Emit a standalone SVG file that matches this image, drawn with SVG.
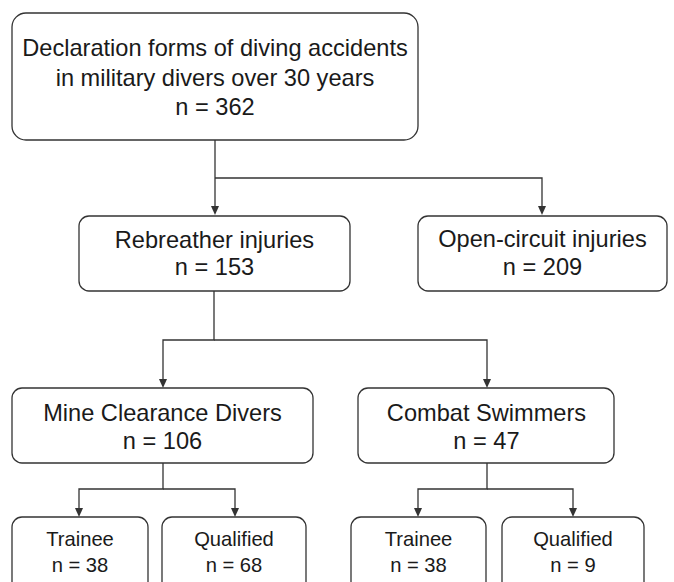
<svg xmlns="http://www.w3.org/2000/svg" width="674" height="582" viewBox="0 0 674 582">
<style>
.box{fill:#fff;stroke:#333;stroke-width:1.3}
.t{font-family:"Liberation Sans",Arial,sans-serif;font-size:23.6px;fill:#1a1a1a;text-anchor:middle}
.s{font-family:"Liberation Sans",Arial,sans-serif;font-size:20.2px;fill:#1a1a1a;text-anchor:middle}
.c{fill:none;stroke:#333;stroke-width:1.3}
</style>
<defs>
<marker id="ah" markerWidth="8" markerHeight="9" refX="4" refY="9" orient="auto-start-reverse" markerUnits="userSpaceOnUse" viewBox="0 0 8 9">
<path d="M0,0 L8,0 L4,9 Z" fill="#333" transform="rotate(0)"/>
</marker>
</defs>
<rect width="674" height="582" fill="#fff"/>
<g id="connectors">
<path class="c" d="M215,140 V206"/><path d="M211,206 L219,206 L215,215 Z" fill="#333"/>
<path class="c" d="M215,178 H542 V206"/><path d="M538,206 L546,206 L542,215 Z" fill="#333"/>
<path class="c" d="M214,291 V340 H163 V379"/><path d="M159,379 L167,379 L163,388 Z" fill="#333"/>
<path class="c" d="M214,340 H487 V379"/><path d="M483,379 L491,379 L487,388 Z" fill="#333"/>
<path class="c" d="M163,463 V489 H79 V508"/><path d="M75,508 L83,508 L79,517 Z" fill="#333"/>
<path class="c" d="M163,489 H235 V508"/><path d="M231,508 L239,508 L235,517 Z" fill="#333"/>
<path class="c" d="M487,463 V489 H418 V508"/><path d="M414,508 L422,508 L418,517 Z" fill="#333"/>
<path class="c" d="M487,489 H573 V508"/><path d="M569,508 L577,508 L573,517 Z" fill="#333"/>
</g>
<g id="n-root">
<rect class="box" x="12" y="13" width="406" height="127" rx="14"/>
<text class="t" x="215" y="56">Declaration forms of diving accidents</text>
<text class="t" x="215" y="86">in military divers over 30 years</text>
<text class="t" x="215" y="115">n = 362</text>
</g>
<g id="n-rebreather">
<rect class="box" x="79" y="216" width="271" height="75" rx="10"/>
<text class="t" x="214.5" y="248">Rebreather injuries</text>
<text class="t" x="214.5" y="275">n = 153</text>
</g>
<g id="n-open">
<rect class="box" x="418" y="216" width="249" height="75" rx="10"/>
<text class="t" x="542.5" y="247">Open-circuit injuries</text>
<text class="t" x="542.5" y="275">n = 209</text>
</g>
<g id="n-mine">
<rect class="box" x="12" y="388" width="301" height="75" rx="10"/>
<text class="t" x="162.5" y="421">Mine Clearance Divers</text>
<text class="t" x="162.5" y="449">n = 106</text>
</g>
<g id="n-combat">
<rect class="box" x="358" y="388" width="256" height="75" rx="10"/>
<text class="t" x="486.5" y="421">Combat Swimmers</text>
<text class="t" x="486.5" y="449">n = 47</text>
</g>
<g id="n-mine-trainee">
<rect class="box" x="12" y="517" width="136" height="80" rx="10"/>
<text class="s" x="80" y="546">Trainee</text>
<text class="s" x="80" y="572">n = 38</text>
</g>
<g id="n-mine-qualified">
<rect class="box" x="162" y="517" width="144" height="80" rx="10"/>
<text class="s" x="234" y="546">Qualified</text>
<text class="s" x="234" y="572">n = 68</text>
</g>
<g id="n-combat-trainee">
<rect class="box" x="351" y="517" width="135" height="80" rx="10"/>
<text class="s" x="418.5" y="546">Trainee</text>
<text class="s" x="418.5" y="572">n = 38</text>
</g>
<g id="n-combat-qualified">
<rect class="box" x="502" y="517" width="142" height="80" rx="10"/>
<text class="s" x="573" y="546">Qualified</text>
<text class="s" x="573" y="572">n = 9</text>
</g>
</svg>
